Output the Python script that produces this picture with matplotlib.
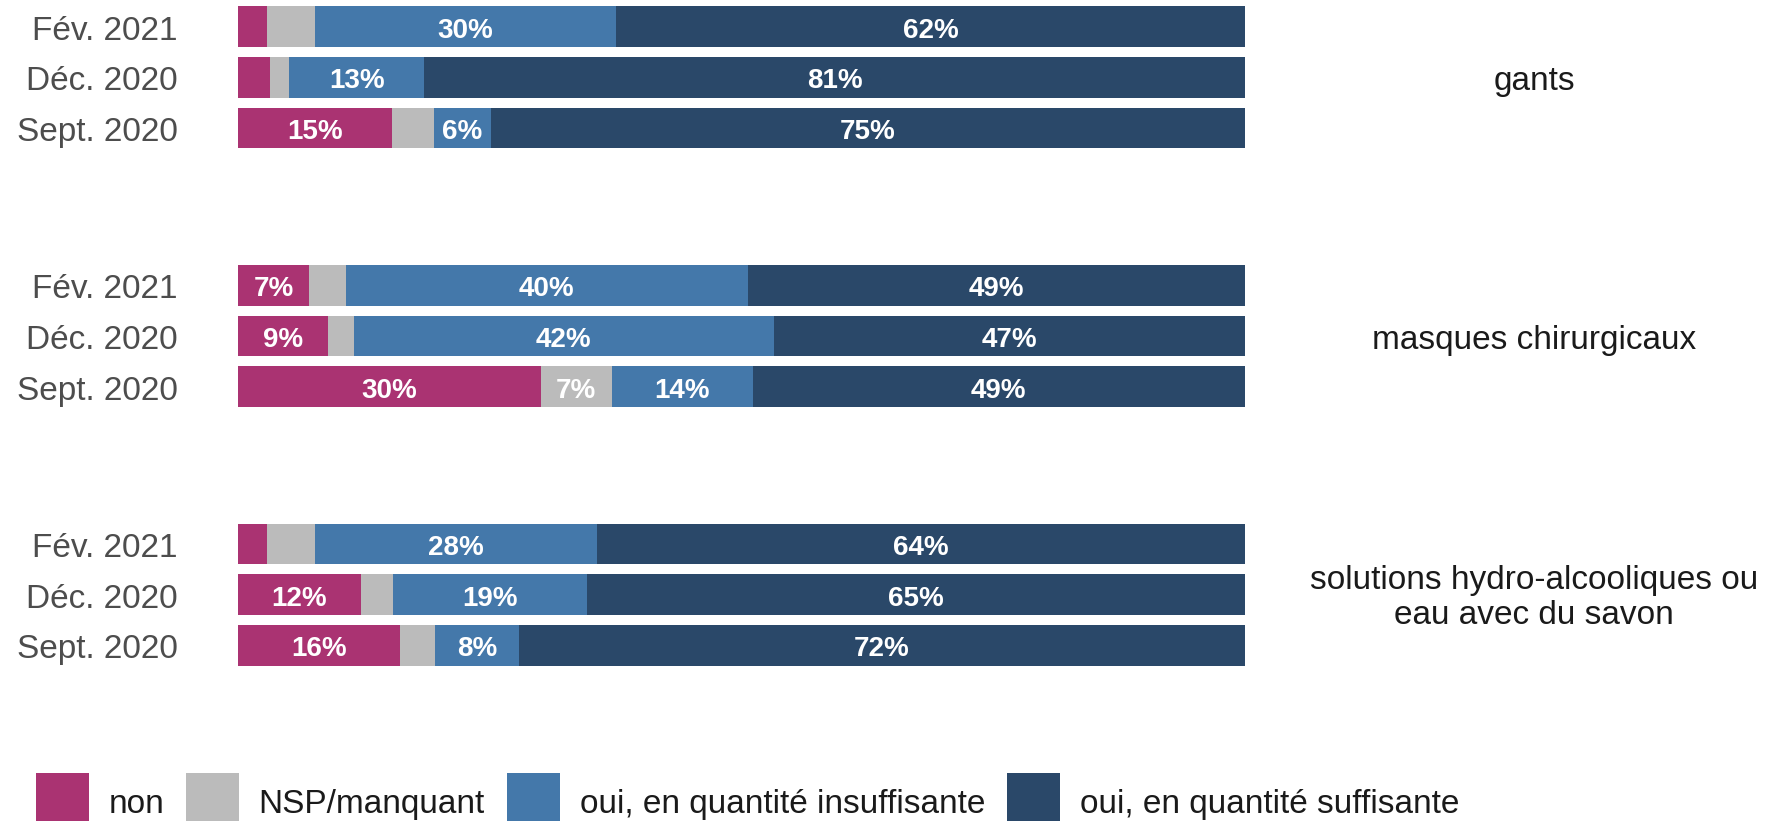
import matplotlib
matplotlib.use("Agg")
import matplotlib.pyplot as plt
import numpy as np
from matplotlib.patches import Patch, Rectangle
from matplotlib.legend_handler import HandlerBase
from matplotlib.transforms import ScaledTranslation

# ---- data ----
categories = ["gants", "masques chirurgicaux",
              "solutions hydro-alcooliques ou\neau avec du savon"]
periods = ["Fév. 2021", "Déc. 2020", "Sept. 2020"]
series_names = ["non", "NSP/manquant", "oui, en quantité insuffisante",
                "oui, en quantité suffisante"]
# rows: category; columns: periods (Fév. 2021, Déc. 2020, Sept. 2020), in %
non = [[2.9, 3.2, 15.3], [7.1, 8.9, 30.1], [2.9, 12.2, 16.1]]
nsp = [[4.7, 1.9, 4.2], [3.6, 2.6, 7.0], [4.7, 3.2, 3.4]]
insuffisante = [[29.9, 13.4, 5.6], [39.9, 41.7, 14.0], [28.1, 19.3, 8.4]]
suffisante = [[62.4, 81.4, 74.9], [49.4, 46.8, 48.9], [64.3, 65.4, 72.0]]

colors = ["#AA3372", "#BBBBBB", "#4478AA", "#2A4869"]

W, H = 1780, 821
plt.rcParams['font.family'] = ['Liberation Sans', 'DejaVu Sans']
fig = plt.figure(figsize=(W / 100, H / 100), dpi=100)

ax_left, ax_right = 238, 1245
ax_top_px, ax_bot_px = 0, 700
ax = fig.add_axes([ax_left / W, 1 - ax_bot_px / H, (ax_right - ax_left) / W,
                   (ax_bot_px - ax_top_px) / H])

row_step = 50.7
y0_px = 26.7
group_gap = 5.1
bar_h = 0.8
fs_text = 24
fs_bar = 20

ax.set_xlim(0, 100)
ax.set_ylim((ax_bot_px - y0_px) / row_step, (ax_top_px - y0_px) / row_step)

px = 1.0 / row_step  # one pixel in data units (vertical)
tick_tr = ax.get_yaxis_transform() + ScaledTranslation(-60 / 100, 0,
                                                       fig.dpi_scale_trans)

all_series = [non, nsp, insuffisante, suffisante]
for g, cat in enumerate(categories):
    for i, per in enumerate(periods):
        y = g * group_gap + i
        vals = np.array([s[g][i] for s in all_series], dtype=float)
        scaled = vals / vals.sum() * 100
        left = 0.0
        for k in range(4):
            ax.barh(y, scaled[k], left=left, height=bar_h, color=colors[k],
                    edgecolor='none')
            if round(vals[k]) >= 6:
                ax.text(left + scaled[k] / 2, y + 11 * px,
                        f"{int(round(vals[k]))}%",
                        ha='center', va='baseline', color='white',
                        fontsize=fs_bar, fontweight='bold')
            left += scaled[k]
        ax.text(0, y + 13 * px, per, transform=tick_tr, ha='right',
                va='baseline', fontsize=fs_text, color='#4D4D4D')
    lines = cat.split("\n")
    yc = g * group_gap + 1
    if len(lines) == 1:
        offs = [13]
    else:
        offs = [-5.2, 29.5]
    for ln, o in zip(lines, offs):
        ax.text(128.7, yc + o * px, ln, ha='center', va='baseline',
                fontsize=fs_text, color='#1A1A1A', clip_on=False)

ax.set_yticks([])
ax.set_xticks([])
for sp in ax.spines.values():
    sp.set_visible(False)


# legend with square keys
class SquareHandler(HandlerBase):
    def create_artists(self, legend, orig_handle, xdescent, ydescent,
                       width, height, fontsize, trans):
        r = Rectangle((-xdescent, -9.6), width, 38.4,
                      facecolor=orig_handle.get_facecolor(),
                      edgecolor='none', transform=trans)
        return [r]


handles = [Patch(facecolor=c, edgecolor='none') for c in colors]
em = fs_text * 100 / 72
fig.legend(handles, series_names, loc='upper left',
           bbox_to_anchor=(35.7 / W, 1 - 773.0 / H), ncol=4, frameon=False,
           fontsize=fs_text, handlelength=1.6, handleheight=2.4,
           handletextpad=19.3 / em, columnspacing=22.0 / em, borderpad=0,
           borderaxespad=0, labelcolor='#1A1A1A',
           handler_map={Patch: SquareHandler()})

fig.savefig("out.png", dpi=100)
